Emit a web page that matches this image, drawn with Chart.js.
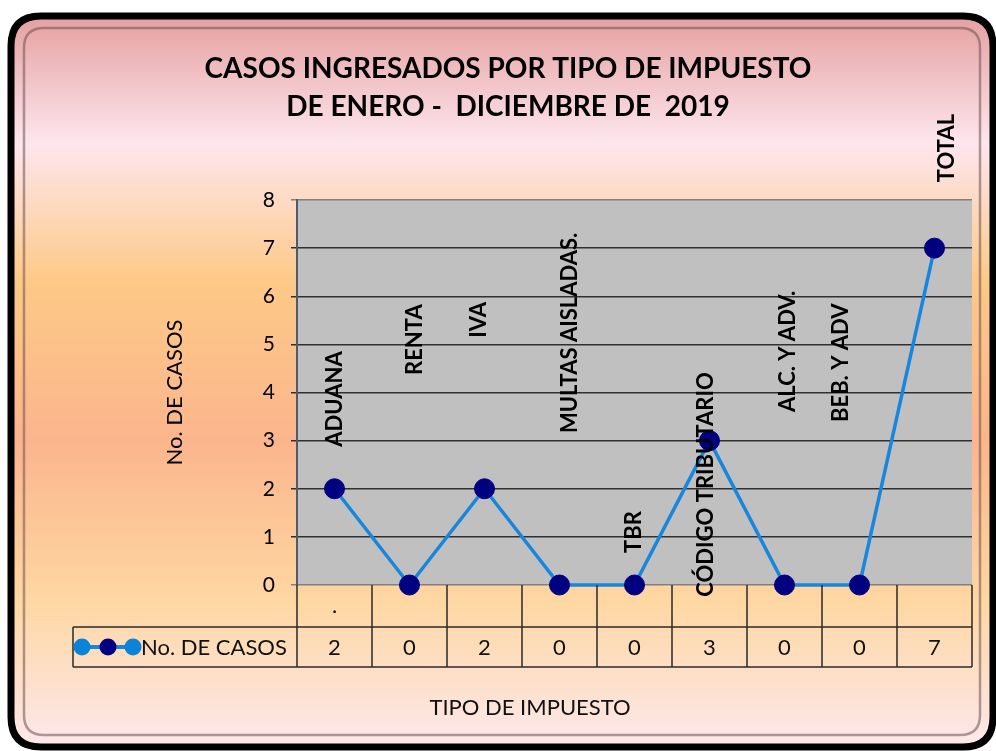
<!DOCTYPE html>
<html>
<head>
<meta charset="utf-8">
<title>Casos ingresados por tipo de impuesto</title>
<script src="https://cdn.jsdelivr.net/npm/chart.js@4.4.1/dist/chart.umd.min.js"></script>
<style>
  html, body { margin: 0; padding: 0; background: #ffffff; }
  #wrap { width: 996px; height: 751px; position: relative; }
</style>
</head>
<body>
<div id="wrap"><canvas id="chart" width="996" height="751"></canvas></div>
<script>
// data
const categories = [".", "", "", "", "", "", "", "", ""];
const tipoNames = ["ADUANA", "RENTA", "IVA", "MULTAS AISLADAS.", "TBR", "CÓDIGO TRIBUTARIO", "ALC. Y ADV.", "BEB. Y ADV", "TOTAL"];
const casos = [2, 0, 2, 0, 0, 3, 0, 0, 7];
const seriesName = "No. DE CASOS";
const yTicks = [0, 1, 2, 3, 4, 5, 6, 7, 8];
const titleLines = ["CASOS INGRESADOS POR TIPO DE IMPUESTO", "DE ENERO -  DICIEMBRE DE  2019"];
const yTitle = "No. DE CASOS";
const xTitle = "TIPO DE IMPUESTO";

const FONT = "Lato, 'Open Sans', sans-serif";
const LINE_BLUE = "#1787de";
const POINT_NAVY = "#000080";

// where each rotated name sits relative to its point (px)
const nameOffsets = [
  [0, -42], [5, -210], [-6, -151], [10, -152], [-1, -32],
  [-4, 156], [3, -173], [-19, -163], [12, -66]
];

function roundRect(ctx, x, y, w, h, r) {
  ctx.beginPath();
  ctx.moveTo(x + r, y);
  ctx.lineTo(x + w - r, y);
  ctx.quadraticCurveTo(x + w, y, x + w, y + r);
  ctx.lineTo(x + w, y + h - r);
  ctx.quadraticCurveTo(x + w, y + h, x + w - r, y + h);
  ctx.lineTo(x + r, y + h);
  ctx.quadraticCurveTo(x, y + h, x, y + h - r);
  ctx.lineTo(x, y + r);
  ctx.quadraticCurveTo(x, y, x + r, y);
  ctx.closePath();
}

const frame = {
  id: "frame",
  beforeDraw(chart) {
    const ctx = chart.ctx;
    const W = chart.width, H = chart.height;
    ctx.save();
    ctx.fillStyle = "#ffffff";
    ctx.fillRect(0, 0, W, H);
    const g = ctx.createLinearGradient(0, 20, 0, H - 5);
    g.addColorStop(0.0, "#e6a2a2");
    g.addColorStop(0.17, "#fde6ee");
    g.addColorStop(0.36, "#fdc987");
    g.addColorStop(0.58, "#fbb58c");
    g.addColorStop(0.80, "#fed7a2");
    g.addColorStop(1.0, "#fde8ec");
    roundRect(ctx, 11, 16, W - 14, H - 20, 30);
    ctx.fillStyle = g;
    ctx.fill();
    ctx.lineWidth = 7;
    ctx.strokeStyle = "#000000";
    ctx.stroke();
    roundRect(ctx, 24, 28, W - 40, H - 44, 20);
    ctx.lineWidth = 2.5;
    ctx.strokeStyle = "rgba(110,80,80,0.55)";
    ctx.stroke();
    const a = chart.chartArea;
    ctx.fillStyle = "#c0c0c0";
    ctx.fillRect(a.left, a.top, a.right - a.left, a.bottom - a.top);

    // title
    ctx.fillStyle = "#000000";
    ctx.font = "bold 28px " + FONT;
    ctx.textAlign = "center";
    ctx.textBaseline = "middle";
    ctx.fillText(titleLines[0], 508, 69);
    ctx.fillText(titleLines[1], 508, 107);
    ctx.restore();
  },
  afterDatasetsDraw(chart) {
    const ctx = chart.ctx;
    const x = chart.scales.x;
    const a = chart.chartArea;
    const meta = chart.getDatasetMeta(0);
    ctx.save();
    // rotated category names
    ctx.fillStyle = "#000000";
    ctx.font = "bold 22px " + FONT;
    ctx.textAlign = "left";
    ctx.textBaseline = "middle";
    tipoNames.forEach((n, i) => {
      const p = meta.data[i];
      const off = nameOffsets[i];
      ctx.save();
      ctx.translate(p.x + off[0], p.y + off[1]);
      ctx.rotate(-Math.PI / 2);
      ctx.fillText(n, 0, 0);
      ctx.restore();
    });

    // data table
    const step = x.getPixelForValue(1) - x.getPixelForValue(0);
    const row1 = a.bottom, row2 = a.bottom + 42, row3 = a.bottom + 82;
    const legendLeft = 73;
    ctx.strokeStyle = "#2a2a2a";
    ctx.lineWidth = 1.5;
    ctx.beginPath();
    ctx.moveTo(legendLeft, row2); ctx.lineTo(a.right, row2);
    ctx.moveTo(legendLeft, row3); ctx.lineTo(a.right, row3);
    ctx.moveTo(legendLeft, row2); ctx.lineTo(legendLeft, row3);
    for (let i = 0; i <= categories.length; i++) {
      const cx = a.left + i * step;
      ctx.moveTo(cx, row1); ctx.lineTo(cx, row3);
    }
    ctx.stroke();

    ctx.fillStyle = "#111111";
    ctx.font = "22px " + FONT;
    ctx.textAlign = "center";
    ctx.textBaseline = "middle";
    categories.forEach((c, i) => {
      ctx.fillText(c, x.getPixelForValue(i), (row1 + row2) / 2);
    });
    casos.forEach((v, i) => {
      ctx.fillText(String(v), x.getPixelForValue(i), (row2 + row3) / 2 + 1);
    });

    // legend key
    const ly = (row2 + row3) / 2;
    ctx.strokeStyle = LINE_BLUE;
    ctx.lineWidth = 4;
    ctx.beginPath();
    ctx.moveTo(82, ly); ctx.lineTo(133, ly);
    ctx.stroke();
    [[82, "#0a84d8"], [108, POINT_NAVY], [133, "#0a84d8"]].forEach(([px, col]) => {
      ctx.beginPath();
      ctx.arc(px, ly, 8.5, 0, Math.PI * 2);
      ctx.fillStyle = col;
      ctx.fill();
    });
    ctx.fillStyle = "#111111";
    ctx.textAlign = "left";
    ctx.fillText(seriesName, 141, ly + 1);

    // x title
    ctx.textAlign = "center";
    ctx.fillText(xTitle, 530, 708);
    ctx.restore();
  }
};

new Chart(document.getElementById("chart"), {
  type: "line",
  data: {
    labels: categories,
    datasets: [{
      label: seriesName,
      data: casos,
      borderColor: LINE_BLUE,
      borderWidth: 3.5,
      pointBackgroundColor: POINT_NAVY,
      pointBorderColor: POINT_NAVY,
      pointRadius: 10,
      pointBorderWidth: 1,
      tension: 0,
      clip: false
    }]
  },
  options: {
    responsive: false,
    animation: false,
    events: [],
    layout: { padding: { left: 150, right: 24, top: 200, bottom: 166 } },
    plugins: {
      legend: { display: false },
      tooltip: { enabled: false },
      title: { display: false }
    },
    scales: {
      x: { display: false, offset: true },
      y: {
        min: 0, max: 8,
        afterFit(scale) { scale.width = 147; },
        afterBuildTicks(scale) { scale.ticks = yTicks.map(v => ({ value: v })); },
        ticks: {
          color: "#000000",
          padding: 16,
          font: { family: FONT, size: 21 }
        },
        grid: {
          drawOnChartArea: true,
          tickLength: 6,
          color: ctx => (ctx.tick && (ctx.tick.value === 8 || ctx.tick.value === 0)) ? "#808080" : "#303030",
          lineWidth: 1.5
        },
        border: { display: true, color: "#4a5a70", width: 2 },
        title: {
          display: true,
          text: yTitle,
          color: "#000000",
          font: { family: FONT, size: 22 },
          padding: { top: 12, bottom: 0 }
        }
      }
    }
  },
  plugins: [frame]
});
</script>
</body>
</html>
